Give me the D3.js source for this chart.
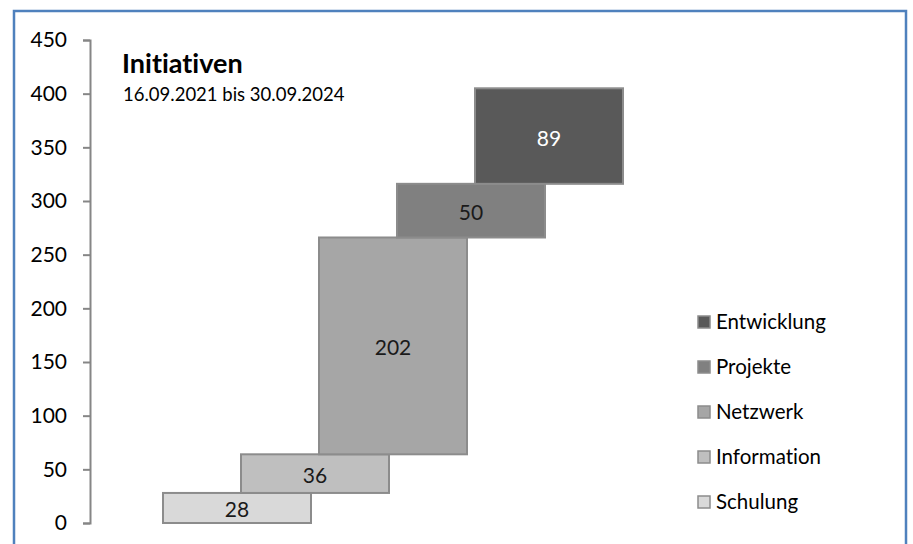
<!DOCTYPE html>
<html>
<head>
<meta charset="utf-8">
<script src="https://cdn.jsdelivr.net/npm/d3@7"></script>
<style>
  body { margin: 0; background: #fff; }
  text { font-family: Lato, "Open Sans", sans-serif; font-variant-ligatures: none; }
</style>
</head>
<body>
<svg id="drawing_region"></svg>
<script>
// data
const categories = ["Schulung", "Information", "Netzwerk", "Projekte", "Entwicklung"];
const values = [28, 36, 202, 50, 89];
const colors = ["#d9d9d9", "#bfbfbf", "#a6a6a6", "#808080", "#595959"];
const yTicks = [0, 50, 100, 150, 200, 250, 300, 350, 400, 450];

const width = 913, height = 544;

const svg = d3.select("#drawing_region")
    .attr("width", width)
    .attr("height", height);

// outer frame
svg.append("rect")
    .attr("x", 14).attr("y", 11)
    .attr("width", 892).attr("height", 560)
    .attr("fill", "#fff")
    .attr("stroke", "#4f81bd")
    .attr("stroke-width", 2.5);

// waterfall bases
let acc = 0;
const bars = categories.map((c, i) => {
    const d = { label: c, value: values[i], base: acc, color: colors[i] };
    acc += values[i];
    return d;
});

const yscale = d3.scaleLinear().domain([0, 450]).range([523, 40]);
const xscale = d3.scalePoint().domain(categories).range([237, 549]);
const barWidth = 148;

const yaxis = d3.axisLeft(yscale)
    .tickValues(yTicks)
    .tickSize(7)
    .tickPadding(16)
    .tickSizeOuter(7);

const yaxis_group = svg.append("g")
    .attr("transform", "translate(90,0)")
    .call(yaxis);
yaxis_group.select(".domain").attr("stroke", "#868686").attr("stroke-width", 2);
yaxis_group.selectAll(".tick line").attr("stroke", "#868686").attr("stroke-width", 2);
yaxis_group.selectAll(".tick text")
    .attr("font-size", "21px")
    .attr("fill", "#000")
    .style("font-family", "Lato, sans-serif");

// bars
svg.selectAll("rect.bar")
    .data(bars)
    .enter()
    .append("rect")
    .attr("class", "bar")
    .attr("x", d => xscale(d.label) - barWidth / 2)
    .attr("y", d => yscale(d.base + d.value))
    .attr("width", barWidth)
    .attr("height", d => yscale(d.base) - yscale(d.base + d.value))
    .attr("fill", d => d.color)
    .attr("stroke", "#8c8c8c")
    .attr("stroke-width", 2);

svg.selectAll("text.val")
    .data(bars)
    .enter()
    .append("text")
    .attr("class", "val")
    .attr("x", d => xscale(d.label))
    .attr("y", d => yscale(d.base + d.value / 2))
    .attr("dy", "0.45em")
    .attr("text-anchor", "middle")
    .attr("font-size", "21px")
    .attr("fill", d => d.label === "Entwicklung" ? "#fff" : "#1a1a1a")
    .text(d => d.value);

// title
svg.append("text")
    .attr("x", 122).attr("y", 73)
    .attr("font-size", "27px")
    .attr("font-weight", 700)
    .text("Initiativen");
svg.append("text")
    .attr("x", 123).attr("y", 101)
    .attr("font-size", "18.5px")
    .text("16.09.2021 bis 30.09.2024");

// legend (reverse order)
const legend = svg.append("g").attr("transform", "translate(697,0)");
const legendItems = bars.slice().reverse();
const ly = d3.scalePoint().domain(legendItems.map(d => d.label)).range([322, 502]);
legend.selectAll("rect")
    .data(legendItems)
    .enter()
    .append("rect")
    .attr("x", 1)
    .attr("y", d => ly(d.label) - 6)
    .attr("width", 12).attr("height", 12)
    .attr("fill", d => d.color)
    .attr("stroke", "#8c8c8c")
    .attr("stroke-width", 1.5);
legend.selectAll("text")
    .data(legendItems)
    .enter()
    .append("text")
    .attr("x", 19)
    .attr("y", d => ly(d.label))
    .attr("dy", "0.35em")
    .attr("font-size", "20.5px")
    .text(d => d.label);
</script>
</body>
</html>
